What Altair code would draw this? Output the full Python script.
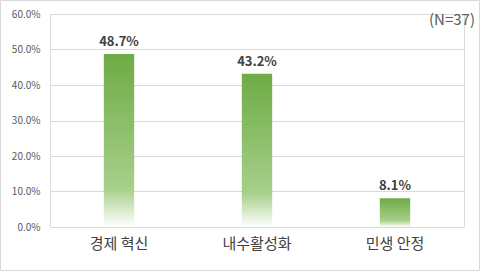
import altair as alt
import pandas as pd

categories = ["경제 혁신", "내수활성화", "민생 안정"]
values = [0.487, 0.432, 0.081]
labels = ["48.7%", "43.2%", "8.1%"]
note = "(N=37)"

df = pd.DataFrame({"cat": categories, "val": values, "lab": labels})

W, H = 414, 213
FONT = "Noto Sans CJK KR"

grad = alt.Gradient(
    gradient="linear",
    stops=[
        alt.GradientStop(color="#6EAB45", offset=0),
        alt.GradientStop(color="#A7D08B", offset=0.78),
        alt.GradientStop(color="#FFFFFF", offset=1),
    ],
    x1=0, x2=0, y1=0, y2=1,
)

x = alt.X("cat:N", sort=categories, title=None,
          scale=alt.Scale(paddingInner=0.78, paddingOuter=0.39),
          axis=alt.Axis(labelAngle=0, labelFontSize=15, labelColor="#404040",
                        labelFont=FONT, labelPadding=9, ticks=False, domain=False))
y = alt.Y("val:Q", title=None,
          scale=alt.Scale(domain=[0, 0.6]),
          axis=alt.Axis(format=".1%", values=[0, 0.1, 0.2, 0.3, 0.4, 0.5, 0.6],
                        labelOverlap=False,
                        labelFontSize=10, labelColor="#595959", labelFont=FONT,
                        labelPadding=10, ticks=False, domain=False,
                        gridColor="#D9D9D9", gridWidth=1))

base = alt.Chart(df).encode(x=x, y=y)

bars = base.mark_bar(color=grad)

text = base.mark_text(dy=-12, fontSize=13, fontWeight="bold",
                      color="#404040", font=FONT).encode(text="lab:N")

ndf = pd.DataFrame({"t": [note]})
ntext = alt.Chart(ndf).mark_text(align="right", baseline="middle", fontSize=15,
                                 color="#595959", font=FONT).encode(
    x=alt.value(W + 11), y=alt.value(6), text="t:N")

border = alt.Chart(ndf).mark_rect(filled=False, stroke="#D9D9D9", strokeWidth=1).encode(
    x=alt.value(-49.5), x2=alt.value(W + 15.5), y=alt.value(-13.5), y2=alt.value(H + 43.5))

chart = alt.layer(bars, text, ntext, border).properties(
    width=W, height=H,
    padding={"left": 50, "top": 14, "right": 16, "bottom": 44},
    autosize=alt.AutoSizeParams(type="none"),
).configure_view(stroke=None).configure(background="white")

chart.save("out.html", embed_options={"renderer": "svg", "actions": False})
